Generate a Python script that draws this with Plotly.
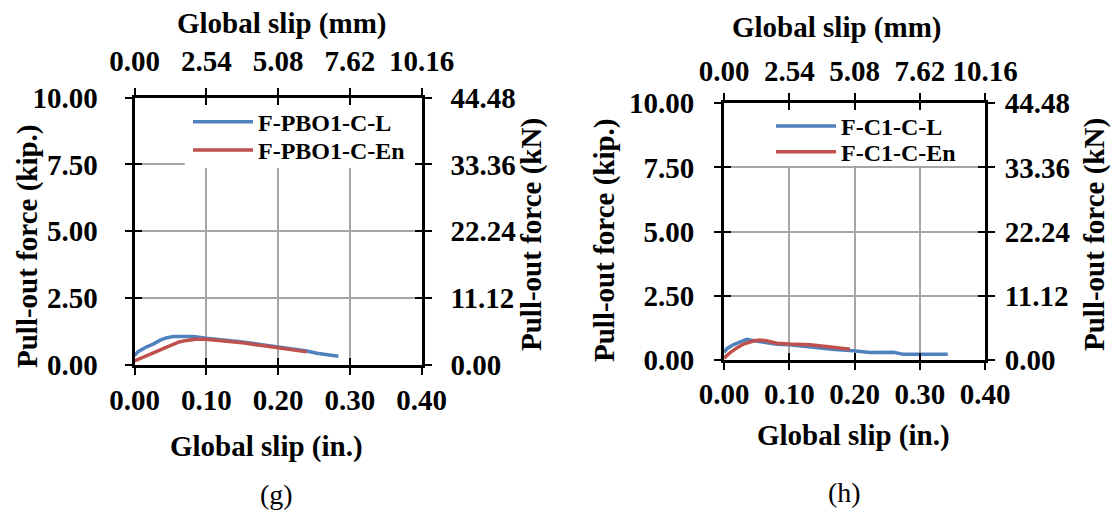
import plotly.graph_objects as go

# ---------------- data ----------------
x_ticks_in = [0.0, 0.1, 0.2, 0.3, 0.4]
y_ticks_kip = [0.0, 2.5, 5.0, 7.5, 10.0]
IN_TO_MM = 25.4
KIP_TO_KN = 4.448

# Panel (g)
g_L_name = "F-PBO1-C-L"
g_L_slip = [0, 0.005, 0.017, 0.026, 0.036, 0.045, 0.055, 0.07, 0.082, 0.1, 0.12, 0.15, 0.18, 0.2, 0.22, 0.24, 0.254, 0.27, 0.284]
g_L_force = [0.35, 0.5, 0.68, 0.78, 0.93, 1.02, 1.07, 1.08, 1.07, 1.0, 0.95, 0.86, 0.75, 0.68, 0.6, 0.52, 0.44, 0.38, 0.33]
g_En_name = "F-PBO1-C-En"
g_En_slip = [0, 0.01, 0.026, 0.04, 0.05, 0.062, 0.073, 0.085, 0.1, 0.12, 0.15, 0.18, 0.2, 0.22, 0.24]
g_En_force = [0.15, 0.27, 0.44, 0.62, 0.75, 0.86, 0.92, 0.96, 0.96, 0.92, 0.83, 0.72, 0.65, 0.57, 0.49]

# Panel (h)
h_L_name = "F-C1-C-L"
h_L_slip = [0, 0.005, 0.014, 0.025, 0.035, 0.04, 0.048, 0.055, 0.068, 0.081, 0.1, 0.125, 0.147, 0.17, 0.198, 0.224, 0.26, 0.275, 0.3, 0.343]
h_L_force = [0.3, 0.45, 0.59, 0.72, 0.81, 0.78, 0.75, 0.72, 0.66, 0.61, 0.59, 0.52, 0.46, 0.41, 0.36, 0.29, 0.30, 0.22, 0.22, 0.22]
h_En_name = "F-C1-C-En"
h_En_slip = [0, 0.01, 0.019, 0.03, 0.045, 0.055, 0.065, 0.081, 0.1, 0.132, 0.16, 0.193]
h_En_force = [0.07, 0.3, 0.46, 0.62, 0.74, 0.78, 0.75, 0.65, 0.62, 0.59, 0.52, 0.42]

in_labels = [f"{v:.2f}" for v in x_ticks_in]
mm_labels = [f"{v * IN_TO_MM:.2f}" for v in x_ticks_in]
kip_labels = [f"{v:.2f}" for v in y_ticks_kip]
kn_labels = [f"{v * KIP_TO_KN:.2f}" for v in y_ticks_kip]

# ---------------- style ----------------
PAGE_OFF = 8            # default body margin of the html page
FW, FH = 1119 - PAGE_OFF, 512 - PAGE_OFF
FONT = "Liberation Serif"
BLUE = "#4F81BD"
RED = "#C0504D"
GRID = "#a6a6a6"
tickfont = dict(family=FONT, size=29, color="black", weight="bold")
titlefont = dict(family=FONT, size=29, color="black", weight="bold")
legfont = dict(family=FONT, size=24, color="black", weight="bold")


def px(x):
    return (x - PAGE_OFF) / FW


def py(y):
    return 1 - (y - PAGE_OFF) / FH


def ax(n, letter):
    return f"{letter}{'' if n == 1 else n}"


fig = go.Figure()

panels = [
    (1, [(g_L_name, g_L_slip, g_L_force, BLUE, "legend"), (g_En_name, g_En_slip, g_En_force, RED, "legend2")]),
    (4, [(h_L_name, h_L_slip, h_L_force, BLUE, "legend3"), (h_En_name, h_En_slip, h_En_force, RED, "legend4")]),
]

for n, series in panels:
    for name, xs, ys, col, leg in series:
        fig.add_trace(go.Scatter(x=xs, y=ys, mode="lines", name=name,
                                 line=dict(color=col, width=3.5),
                                 xaxis=ax(n, "x"), yaxis=ax(n, "y"), legend=leg))
    # transparent copies so that the overlaid axes (mm, kN, inner ticks) get a subplot
    name, xs, ys, col, leg = series[0]
    for xa, ya in [(ax(n + 1, "x"), ax(n, "y")), (ax(n + 2, "x"), ax(n, "y")),
                   (ax(n, "x"), ax(n + 1, "y")), (ax(n, "x"), ax(n + 2, "y"))]:
        fig.add_trace(go.Scatter(x=xs, y=ys, mode="lines", opacity=0, showlegend=False,
                                 hoverinfo="skip", line=dict(color=col, width=0.1),
                                 xaxis=xa, yaxis=ya))

layout = {}


def panel(n, x0, x1, y0, y1, so):
    xa = "xaxis" if n == 1 else f"xaxis{n}"
    ya = "yaxis" if n == 1 else f"yaxis{n}"
    xb = ax(n, "x")
    yb = ax(n, "y")
    xdom = [px(x0), px(x1)]
    ydom = [py(y1), py(y0)]
    common = dict(showline=True, linecolor="black", linewidth=3, tickcolor="black",
                  tickwidth=2, ticklen=7, zeroline=False, automargin=False, fixedrange=True)
    layout[xa] = dict(domain=xdom, anchor=yb, range=[0, 0.4], tickvals=x_ticks_in, ticktext=in_labels,
                      ticks="outside", mirror=True, showgrid=True, gridcolor=GRID, gridwidth=1.5,
                      tickfont=tickfont, ticklabelstandoff=so["bottom"], **common)
    layout[f"xaxis{n+1}"] = dict(overlaying=xb, anchor=yb, side="top", range=[0, 0.4], tickvals=x_ticks_in,
                                 ticktext=mm_labels, ticks="outside", showgrid=False, tickfont=tickfont,
                                 ticklabelstandoff=so["top"], **common)
    layout[f"xaxis{n+2}"] = dict(overlaying=xb, anchor=yb, side="bottom", range=[0, 0.4], tickvals=x_ticks_in,
                                 ticks="inside", mirror="ticks", showgrid=False, showticklabels=False, **common)
    layout[ya] = dict(domain=ydom, anchor=xb, range=[0, 10], tickvals=y_ticks_kip, ticktext=kip_labels,
                      ticks="outside", mirror=True, showgrid=True, gridcolor=GRID, gridwidth=1.5,
                      tickfont=tickfont, ticklabelstandoff=so["left"], **common)
    layout[f"yaxis{n+1}"] = dict(overlaying=yb, anchor=xb, side="right", range=[0, 10], tickvals=y_ticks_kip,
                                 ticktext=kn_labels, ticks="outside", showgrid=False, tickfont=tickfont,
                                 ticklabelstandoff=so["right"], **common)
    layout[f"yaxis{n+2}"] = dict(overlaying=yb, anchor=xb, side="left", range=[0, 10], tickvals=y_ticks_kip,
                                 ticks="inside", mirror="ticks", showgrid=False, showticklabels=False, **common)


panel(1, 134.5, 421.7, 97.5, 365, dict(bottom=0, top=5, left=21, right=13))
panel(4, 724, 985, 103.3, 360, dict(bottom=-1, top=1, left=14, right=4))

annotations = []


def ann(text, x, y, font, angle=0):
    annotations.append(dict(text=text, x=px(x), y=py(y), xref="paper", yref="paper", showarrow=False,
                            xanchor="center", yanchor="middle", font=font, textangle=angle))


ann("Global slip (mm)", 281, 23, titlefont)
ann("Global slip (in.)", 266, 446, titlefont)
ann("Pull-out force (kip.)", 27, 246, titlefont, -90)
ann("Pull-out force (kN)", 532, 235, titlefont, -90)
ann("(g)", 276, 494, dict(family=FONT, size=28, color="black"))
ann("Global slip (mm)", 836, 28, titlefont)
ann("Global slip (in.)", 853, 435, titlefont)
ann("Pull-out force (kip.)", 605, 240, titlefont, -90)
ann("Pull-out force (kN)", 1095, 235, titlefont, -90)
ann("(h)", 844, 492, dict(family=FONT, size=28, color="black"))

# white legend panels that hide the grid behind the legend entries (drawn under the data)
shapes = [
    dict(type="rect", xref="x", yref="y", x0=0.07, x1=0.395, y0=7.36, y1=9.95, layer="between",
         fillcolor="white", line=dict(width=0)),
    dict(type="rect", xref="x4", yref="y4", x0=0.065, x1=0.397, y0=7.56, y1=9.95, layer="between",
         fillcolor="white", line=dict(width=0)),
]


def legend_at(xp, row_center):
    return dict(x=px(xp), y=py(row_center - 22), xanchor="left", yanchor="top",
                bgcolor="rgba(0,0,0,0)", font=legfont, itemwidth=60)


fig.update_layout(
    width=FW, height=FH, margin=dict(l=0, r=0, t=0, b=0, autoexpand=False),
    paper_bgcolor="white", plot_bgcolor="white",
    annotations=annotations, shapes=shapes,
    legend=legend_at(188, 121.7),
    legend2=legend_at(188, 150),
    legend3=legend_at(771, 126),
    legend4=legend_at(771, 151.7),
    **layout,
)

fig.write_html("out.html")
